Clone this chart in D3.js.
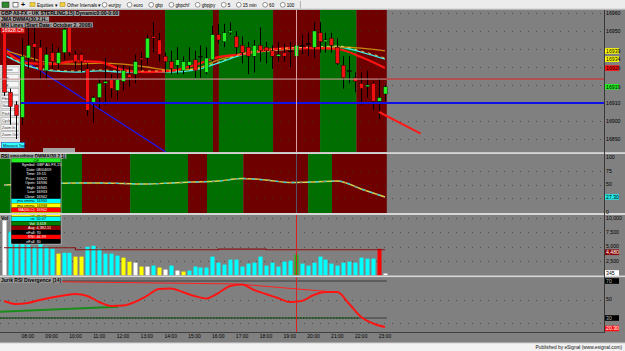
<!DOCTYPE html>
<html>
<head>
<meta charset="utf-8">
<script src="https://cdnjs.cloudflare.com/ajax/libs/d3/7.8.5/d3.min.js"></script>
<style>
  body { margin: 0; background: #808080; overflow: hidden; }
  text { font-family: "Liberation Sans", Arial, sans-serif; }
</style>
</head>
<body>
<svg id="chart"></svg>
<script>
const W = 625, H = 351;
const plotRight = 604;

// ---- data (15 min bars, 07:00 .. 23:00) ----
const opens  = [16949,16916,16909,16902,16935,16943,16941,16928,16938,16932,
                16938,16952,16937,16937,16929,16910,16913,16921,16923,16917,
                16922,16926,16926,16935,16935,16947,16945,16936,16933,16931,
                16928,16931,16934,16936,16927,16934,16948,16944,16949,16947,
                16942,16941,16936,16942,16941,16939,16936,16938,16939,16936,
                16942,16943,16941,16949,16944,16946,16941,16931,16928,16924,
                16921,16919,16921,16911,16915];
const highs  = [16954,16918,16911,16946,16953,16953,16945,16941,16943,16941,
                16954,16955,16939,16938,16932,16914,16924,16935,16926,16931,
                16931,16930,16937,16938,16948,16955,16949,16938,16939,16941,
                16936,16941,16939,16942,16941,16953,16954,16954,16955,16950,
                16947,16944,16945,16952,16944,16942,16944,16943,16944,16945,
                16948,16949,16955,16955,16949,16949,16946,16936,16936,16927,
                16927,16928,16922,16924,16920];
const lows   = [16914,16898,16890,16898,16929,16933,16923,16923,16929,16929,
                16934,16936,16929,16927,16903,16899,16907,16909,16913,16912,
                16917,16919,16921,16928,16931,16938,16933,16927,16926,16926,
                16926,16929,16924,16924,16926,16933,16943,16941,16948,16937,
                16932,16926,16927,16933,16932,16929,16933,16933,16930,16933,
                16937,16936,16935,16938,16938,16938,16931,16918,16921,16916,
                16909,16913,16906,16901,16911];
const closes = [16916,16908,16903,16936,16942,16941,16928,16937,16933,16938,
                16951,16938,16933,16933,16906,16913,16921,16922,16918,16923,
                16928,16924,16933,16934,16946,16946,16937,16933,16929,16934,
                16933,16933,16928,16936,16935,16948,16945,16949,16950,16941,
                16938,16936,16942,16939,16939,16936,16937,16936,16939,16942,
                16942,16943,16950,16944,16945,16942,16932,16924,16928,16922,
                16918,16920,16911,16913,16919];

// moving averages, read every 4th bar
const maIdx    = [0,4,8,12,16,20,24,28,32,36,40,44,48,52,56,60,64];
const maRed    = [16939.4,16932.2,16931.6,16933.3,16932.8,16928.3,16927.2,16927.8,16931.1,16935.5,16937.2,16939.4,16940.5,16940.5,16940.0,16935.5,16929.4];
const maOrange = [16939.4,16935.5,16932.2,16931.6,16932.2,16931.6,16930.0,16928.3,16928.9,16933.9,16937.2,16938.9,16940.0,16940.5,16941.1,16940.5,16938.9];
const maCyan   = [16936.7,16930.5,16927.8,16927.2,16927.8,16927.2,16927.2,16927.2,16928.3,16932.2,16936.7,16938.9,16940.0,16940.5,16941.1,16938.3,16934.4];

const hLineRed  = 16923.3;
const hLineBlue = 16910;
const blueTrend = [[0, 16941], [28, 16881]];
const redProj   = [[63, 16905], [70, 16893]];

const mainBandEdges  = [-1, 27.06, 35.1, 36.1, 45.2, 53.1, 59.2, 64.3];
const mainBandColors = ["r","g","r","g","r","g","r"];
const rsiBandEdges   = [-1, 13.1, 21.2, 30.9, 34.1, 40.2, 51.1, 55.1, 64.3];
const rsiBandColors  = ["g","r","g","r","g","r","g","r"];

const priceTicks = [16890,16900,16910,16920,16930,16940,16950,16960];

const rsiVals = [49.1,50.9,51.8,52.7,52.7,51.8,50.9,52.7,54.5,56.4,60.9,58.2,53.6,54.5,56.4,41.8,27.3];
const rsiTicks = [0,50,75,100];

const volumes = [10000,7600,6600,6000,5350,5000,5600,5000,4650,3800,
                 3950,3950,3280,3280,5000,5170,4650,3800,3800,3450,
                 3100,2410,2240,1550,1550,1720,1380,1030,1720,860,
                 690,860,1550,1380,1380,3280,2240,1900,2760,2760,
                 1550,2070,2240,3280,1720,2240,1550,2410,2590,3618,
                 2070,1720,2240,3280,2760,2070,1720,2240,2410,2240,
                 3100,2930,2930,4650,345];
const volColors = ("wcccccccc" + "y" + "cc" + "yy" + "cccccc" + "yywywcywcwy" +
                   "cccccccccccccccccc" + "g" + "ccccccccccccc" + "r" + "w").split("");
const avgVol = [4830,4830,4830,4480,4480,4480,4480,4480,4480,4570,4570,4480,4480,4480,4480,4480,4480];
const volTicks = [2500,5000,7500,10000];

const jurikIdx = d3.range(0, 65, 2);
const jurik = [48.4,45.1,46.2,49.5,52.2,54.3,55.9,53.8,47.3,43.0,43.5,47.3,53.8,61.4,61.9,58.1,53.8,
               51.1,57.0,64.6,66.2,60.3,55.9,51.6,47.3,48.4,54.9,58.1,58.1,45.1,31.1,24.1,20.3];
const jurikLevels = [30, 70];
const jurikTrend = [[-0.7, 36.8], [19.2, 42.2]];
const jurikDiv = [[[-0.7, 70.0], [39.2, 66.8]], [[39.2, 66.8], [54.8, 58.4]]];

const hourLabels = ["08:00","09:00","10:00","11:00","12:00","13:00","14:00","15:00",
                    "16:00","17:00","18:00","19:00","20:00","21:00","22:00","23:00"];
const hourBars = [4,8,12,16,20,24,28,32,36,40,44,48,52,56,60,64];
const cursorBar = 49;

const toolbarItems = ["eurjpy","euro","gbp","gbpchf","gbpjpy","5","15 min","60","100"];
const dataRows = [
  ["", "Off", "#22ee22", "#000"],
  ["Symbol:", "GBP A0-FX,15", "#000", "#fff"],
  ["Date:", "08/04/09", "#000", "#fff"],
  ["Time:", "19:15", "#000", "#fff"],
  ["Price:", "16922", "#000", "#fff"],
  ["Open:", "16936", "#000", "#fff"],
  ["High:", "16945", "#000", "#fff"],
  ["Low:", "16933", "#000", "#fff"],
  ["Close:", "16942", "#000", "#fff"],
  ["jma xmma:", "16930", "#00ffff", "#000"],
  ["jma xmma:", "16938", "#ffff00", "#000"],
  ["MA(50,C):", "16942", "#ff0000", "#fff"],
  ["rsi:", "52.56", "#ffff00", "#000"],
  ["rsi:", "50.07", "#00ffff", "#000"],
  ["Vol:", "3,618", "#008000", "#fff"],
  ["Avg:", "4,382.11", "#8b0000", "#fff"],
  ["nFall:", "70", "#000", "#fff"],
  ["RSI:", "46.99", "#ff0000", "#fff"],
  ["nFall:", "30", "#000", "#fff"]
];
const toolButtons = ["Cursor","Line","Ray","Text","Fibs","Gann","Pitch","Cycle","Zoom In","Zoom Out"];

// ---- scales ----
const bandCol = {r: "#6e0000", g: "#006e00"};
const volCol = {w: "#ffffff", y: "#ffff00", c: "#00ffff", g: "#22b022", r: "#ff0000"};
const x = d3.scaleLinear().domain([0, 64]).range([4, 385]);
const yMain = d3.scaleLinear().domain([16890, 16960]).range([139, 13]);
const yRsi = d3.scaleLinear().domain([0, 100]).range([212, 157]);
const yVol = d3.scaleLinear().domain([0, 10000]).range([275.5, 218]);
const yJrk = d3.scaleLinear().domain([30, 70]).range([318, 281]);

const panels = {
  main: [10, 152], rsi: [154, 213], vol: [215, 275.5], jrk: [277, 332]
};

const svg = d3.select("#chart").attr("width", W).attr("height", H);
const defs = svg.append("defs");
Object.entries(panels).forEach(([k, p]) => {
  defs.append("clipPath").attr("id", "clip-" + k)
    .append("rect").attr("x", 0).attr("y", p[0]).attr("width", plotRight).attr("height", p[1] - p[0]);
});
svg.append("rect").attr("width", W).attr("height", H).attr("fill", "#808080");

function panel(k) { return svg.append("g").attr("clip-path", "url(#clip-" + k + ")"); }
function dotted(g, y) {
  g.append("line").attr("x1", 0).attr("x2", plotRight).attr("y1", Math.round(y) + 0.5).attr("y2", Math.round(y) + 0.5)
    .attr("stroke", "#383838").attr("stroke-width", 1).attr("stroke-dasharray", "1,7").attr("opacity", 0.7);
}
function boxLabel(g, xx, y, txt, bg, fg, size, bold) {
  const t = g.append("text").attr("x", xx + 1).attr("y", y).attr("font-size", size)
    .attr("font-weight", bold ? "bold" : "normal").attr("fill", fg).text(txt);
  const w = t.node().getComputedTextLength();
  g.insert("rect", () => t.node()).attr("x", xx).attr("y", y - size * 0.85).attr("width", w + 2)
    .attr("height", size * 1.05).attr("fill", bg);
}
const px = i => Math.round(x(i)) + 0.5;

// ---- main price panel ----
const gm = panel("main");
mainBandColors.forEach((c, k) => {
  gm.append("rect").attr("x", x(mainBandEdges[k])).attr("width", x(mainBandEdges[k + 1]) - x(mainBandEdges[k]))
    .attr("y", 10).attr("height", 142).attr("fill", bandCol[c]);
});
priceTicks.forEach(v => dotted(gm, yMain(v)));

// tool panel on the left
gm.append("rect").attr("x", 0).attr("y", 65).attr("width", 20).attr("height", 83).attr("fill", "#e2e2e2");
toolButtons.forEach((b, k) => {
  const yy = 67 + k * 7.2;
  gm.append("rect").attr("x", 1).attr("y", yy).attr("width", 18).attr("height", 5.6)
    .attr("fill", "#f6f6f6").attr("stroke", "#9a9a9a").attr("stroke-width", 0.5);
  gm.append("text").attr("x", 2).attr("y", yy + 4.4).attr("font-size", 3.6).attr("fill", "#333").text(b);
});
gm.append("rect").attr("x", 1.5).attr("y", 142.5).attr("width", 23).attr("height", 5.5)
  .attr("fill", "#33ffff").attr("stroke", "#2050c0").attr("stroke-width", 0.6);
gm.append("text").attr("x", 3).attr("y", 146.8).attr("font-size", 3.8).attr("fill", "#003").text("Measure Tool");

const line = d3.line().x(d => x(d[0])).y(d => yMain(d[1]));
gm.append("path").attr("d", line(blueTrend)).attr("stroke", "#1a1aff").attr("stroke-width", 1.2).attr("fill", "none");

const maLine = d3.line().x(d => x(d[0])).y(d => yMain(d[1])).curve(d3.curveMonotoneX);
[[maCyan, "#40e8e8", 1.3], [maOrange, "#c88a10", 1.3], [maRed, "#ff1414", 2.2]].forEach(([arr, col, sw]) => {
  gm.append("path").attr("d", maLine(maIdx.map((i, k) => [i, arr[k]])))
    .attr("stroke", col).attr("stroke-width", sw).attr("fill", "none");
});
gm.append("path").attr("d", maLine(maIdx.map((i, k) => [i, maCyan[k] + 0.6])))
  .attr("stroke", "#e8e860").attr("stroke-width", 0.8).attr("stroke-dasharray", "3,4").attr("fill", "none");

// candles
const bars = opens.map((o, i) => ({i, o, h: highs[i], l: lows[i], c: closes[i]}));
gm.selectAll(".wick").data(bars).join("line")
  .attr("x1", d => px(d.i)).attr("x2", d => px(d.i))
  .attr("y1", d => yMain(d.h)).attr("y2", d => yMain(d.l))
  .attr("stroke", "#000").attr("stroke-width", 1);
gm.selectAll(".body").data(bars).join("rect")
  .attr("x", d => Math.round(x(d.i)) - 1.5).attr("width", 4)
  .attr("y", d => yMain(Math.max(d.o, d.c)))
  .attr("height", d => Math.max(1, Math.abs(yMain(d.o) - yMain(d.c))))
  .attr("fill", d => d.c > d.o ? "#22ee22" : d.c < d.o ? "#f01010" : "#000")
  .attr("stroke", "#000").attr("stroke-width", 0.4);

// horizontal lines
gm.append("line").attr("x1", 0).attr("x2", x(64.3)).attr("y1", yMain(hLineRed)).attr("y2", yMain(hLineRed))
  .attr("stroke", "#d8a0a0").attr("stroke-width", 1);
gm.append("line").attr("x1", x(64.3)).attr("x2", plotRight).attr("y1", yMain(hLineRed)).attr("y2", yMain(hLineRed))
  .attr("stroke", "#e02020").attr("stroke-width", 1);
gm.append("line").attr("x1", 21).attr("x2", plotRight).attr("y1", yMain(hLineBlue)).attr("y2", yMain(hLineBlue))
  .attr("stroke", "#1010e8").attr("stroke-width", 2);
gm.append("path").attr("d", line(redProj)).attr("stroke", "#ff1a1a").attr("stroke-width", 2).attr("fill", "none");
gm.append("line").attr("x1", px(cursorBar)).attr("x2", px(cursorBar)).attr("y1", 10).attr("y2", 152)
  .attr("stroke", "#d8a0a0").attr("stroke-width", 1);
gm.append("rect").attr("x", 43).attr("y", 148).attr("width", 32).attr("height", 4).attr("fill", "#a4a4a4");

boxLabel(gm, 0, 15, "GBP A0-FX - UK STERLING,15) Dynamic0:00-0:00", "#a0a0a0", "#000", 5, true);
boxLabel(gm, 0, 20.8, "JMA DWMA(30,2,H..", "#a0a0a0", "#000", 5, true);
boxLabel(gm, 0, 26.6, "MH Lines (Start Date: October 2, 2008)", "#a0a0a0", "#000", 5, true);
boxLabel(gm, 1, 32.3, "16928.Ch", "#e01010", "#fff", 5, false);

// ---- RSI panel ----
const gr = panel("rsi");
rsiBandColors.forEach((c, k) => {
  gr.append("rect").attr("x", x(rsiBandEdges[k])).attr("width", x(rsiBandEdges[k + 1]) - x(rsiBandEdges[k]))
    .attr("y", 154).attr("height", 59).attr("fill", bandCol[c]);
});
[25, 50, 75].forEach(v => dotted(gr, yRsi(v)));
const rsiLine = d3.line().x((d, k) => x(maIdx[k])).y(d => yRsi(d)).curve(d3.curveMonotoneX);
gr.append("path").attr("d", rsiLine(rsiVals)).attr("stroke", "#d8d850").attr("stroke-width", 1.4).attr("fill", "none");
gr.append("path").attr("d", rsiLine(rsiVals)).attr("stroke", "#30c8d8").attr("stroke-width", 1.4)
  .attr("stroke-dasharray", "3,5").attr("fill", "none");
gr.append("path").attr("d", rsiLine(rsiVals)).attr("stroke", "#d87030").attr("stroke-width", 1)
  .attr("stroke-dasharray", "2,9").attr("fill", "none");
gr.append("line").attr("x1", px(cursorBar)).attr("x2", px(cursorBar)).attr("y1", 154).attr("y2", 213)
  .attr("stroke", "#505868").attr("stroke-width", 1);
boxLabel(gr, 0, 157.8, "RSI smoothing DWMA(30,2,1)", "#a0a0a0", "#000", 4.6, true);

// ---- volume panel ----
const gv = panel("vol");
volTicks.forEach(v => dotted(gv, yVol(v)));
gv.selectAll(".vb").data(volumes).join("rect")
  .attr("x", (d, i) => Math.round(x(i)) - 1.5).attr("width", 4)
  .attr("y", d => yVol(d)).attr("height", d => yVol(0) - yVol(d))
  .attr("fill", (d, i) => volCol[volColors[i]]);
gv.append("path")
  .attr("d", d3.line().x((d, k) => x(maIdx[k])).y(d => yVol(d)).curve(d3.curveStepAfter)(avgVol))
  .attr("stroke", "#8a1010").attr("stroke-width", 1.2).attr("fill", "none");
gv.append("line").attr("x1", px(cursorBar)).attr("x2", px(cursorBar)).attr("y1", 215).attr("y2", 276)
  .attr("stroke", "#e02020").attr("stroke-width", 1);
boxLabel(gv, 0, 219.5, "Vol", "#a0a0a0", "#000", 5, true);

// ---- Jurik RSI divergence panel ----
const gj = panel("jrk");
[25, 50].forEach(v => dotted(gj, yJrk(v)));
jurikLevels.forEach(v => {
  gj.append("line").attr("x1", 0).attr("x2", x(64.3)).attr("y1", yJrk(v)).attr("y2", yJrk(v))
    .attr("stroke", "#3a3a3a").attr("stroke-width", 1);
});
gj.append("line").attr("x1", 0).attr("x2", x(59.5)).attr("y1", yJrk(30)).attr("y2", yJrk(30))
  .attr("stroke", "#1e5a1e").attr("stroke-width", 2).attr("stroke-dasharray", "1.5,1.5");
const jl = d3.line().x(d => x(d[0])).y(d => yJrk(d[1]));
jurikDiv.forEach(seg => gj.append("path").attr("d", jl(seg)).attr("stroke", "#ff2020").attr("stroke-width", 1).attr("fill", "none"));
gj.append("path").attr("d", jl(jurikTrend)).attr("stroke", "#1a8c1a").attr("stroke-width", 2).attr("fill", "none");
gj.append("path").attr("d", jl.curve(d3.curveMonotoneX)(jurikIdx.map((i, k) => [i, jurik[k]])))
  .attr("stroke", "#ff1414").attr("stroke-width", 2).attr("fill", "none");
gj.append("line").attr("x1", px(cursorBar)).attr("x2", px(cursorBar)).attr("y1", 277).attr("y2", 332)
  .attr("stroke", "#e02020").attr("stroke-width", 1);
boxLabel(gj, 0, 281.6, "Jurik RSI Divergence (14)", "#a0a0a0", "#000", 5, true);

// ---- data window ----
const dw = svg.append("g");
const rowH = 4.5;
dw.append("rect").attr("x", 11).attr("y", 158).attr("width", 50).attr("height", dataRows.length * rowH + 0.5)
  .attr("fill", "#000").attr("stroke", "#c8c8c8").attr("stroke-width", 0.8);
dataRows.forEach((r, k) => {
  const yy = 158.3 + k * rowH;
  dw.append("rect").attr("x", 11.5).attr("y", yy).attr("width", 49).attr("height", rowH - 0.3).attr("fill", r[2]);
  if (r[0] === "") {
    dw.append("text").attr("x", 36).attr("y", yy + 3.6).attr("text-anchor", "middle")
      .attr("font-size", 3.8).attr("fill", r[3]).text(r[1]);
  } else {
    dw.append("text").attr("x", 35.5).attr("y", yy + 3.6).attr("text-anchor", "end")
      .attr("font-size", 3.8).attr("fill", r[3]).text(r[0]);
    dw.append("text").attr("x", 36.5).attr("y", yy + 3.6)
      .attr("font-size", 3.8).attr("fill", r[3]).text(r[1]);
  }
});

// ---- separators and borders ----
[[152.2, 1.8], [213, 2], [275.5, 1.6]].forEach(([y, h]) => {
  svg.append("rect").attr("x", 0).attr("y", y).attr("width", W).attr("height", h).attr("fill", "#d6d6d6");
});
svg.append("line").attr("x1", 0).attr("x2", plotRight).attr("y1", 332.5).attr("y2", 332.5).attr("stroke", "#404040");
svg.append("line").attr("x1", plotRight + 0.5).attr("x2", plotRight + 0.5).attr("y1", 10).attr("y2", 333).attr("stroke", "#383838");

// ---- right axes ----
const ax = svg.append("g").attr("font-size", 5.2).attr("fill", "#000");
function axText(v, y, txt) { ax.append("text").attr("x", 606).attr("y", y + 1.8).text(txt); }
function marker(y, txt, bg, fg) {
  ax.append("rect").attr("x", 605).attr("y", y - 2.8).attr("width", 14).attr("height", 5.6).attr("fill", bg);
  ax.append("text").attr("x", 606).attr("y", y + 1.8).attr("fill", fg).text(txt);
}
const priceMarkers = [
  [maOrange[maOrange.length - 1], "#ffff00", "#000"],
  [maCyan[maCyan.length - 1], "#ffff00", "#000"],
  [maRed[maRed.length - 1], "#ff1010", "#000"],
  [closes[closes.length - 1], "#22ee22", "#000"]
];
// tick labels hidden behind a value marker are not drawn
priceTicks.filter(v => priceMarkers.every(m => Math.abs(yMain(m[0]) - yMain(v)) > 4.5))
  .forEach(v => axText(v, yMain(v), v));
priceMarkers.forEach(m => marker(yMain(m[0]), d3.format(".0f")(m[0]), m[1], m[2]));

rsiTicks.forEach(v => axText(v, yRsi(v), v));
marker(yRsi(rsiVals[rsiVals.length - 1]), d3.format(".2f")(rsiVals[rsiVals.length - 1]), "#22e8e8", "#000");

volTicks.forEach(v => axText(v, yVol(v) - (v === 5000 ? 1 : 0), d3.format(",")(v)));
marker(yVol(avgVol[avgVol.length - 1]) + 2.5, d3.format(",")(avgVol[avgVol.length - 1]), "#8b0000", "#fff");
marker(yVol(0) - 2.5, volumes[volumes.length - 1], "#ffffff", "#000");

axText(50, yJrk(50), "50");
jurikLevels.forEach(v => marker(yJrk(v), v, "#000", "#bbb"));
marker(yJrk(jurik[jurik.length - 1]) + 1.5, d3.format(".2f")(jurik[jurik.length - 1]), "#ff1010", "#fff");

// ---- time axis ----
svg.append("g").selectAll("text").data(hourLabels).join("text")
  .attr("x", (d, k) => x(hourBars[k])).attr("y", 337.5).attr("text-anchor", "middle")
  .attr("font-size", 5).attr("fill", "#000").text(d => d);

// ---- footer ----
svg.append("rect").attr("x", 0).attr("y", 343).attr("width", W).attr("height", 8).attr("fill", "#f2f2f2");
svg.append("line").attr("x1", 0).attr("x2", W).attr("y1", 343).attr("y2", 343).attr("stroke", "#cfcfcf");
svg.append("text").attr("x", 622).attr("y", 349.2).attr("text-anchor", "end").attr("font-size", 4.8)
  .attr("fill", "#111").text("Published by eSignal (www.esignal.com)");

// ---- toolbar ----
const tb = svg.append("g");
tb.append("rect").attr("width", W).attr("height", 9.5).attr("fill", "#ececec");
tb.append("line").attr("x1", 0).attr("x2", W).attr("y1", 9.2).attr("y2", 9.2).attr("stroke", "#b8b8b8");
tb.append("rect").attr("x", 2).attr("y", 2).attr("width", 7).attr("height", 5.5).attr("fill", "#2c8a2c").attr("stroke", "#222").attr("stroke-width", 0.5);
tb.append("rect").attr("x", 13).attr("y", 2.5).attr("width", 5).attr("height", 4.5).attr("fill", "#fff").attr("stroke", "#333").attr("stroke-width", 0.6);
tb.append("text").attr("x", 21).attr("y", 7).attr("font-size", 7).attr("font-weight", "bold").text("+");
[[30, "Equities"], [60, "Other Intervals"]].forEach(([xx, t]) => {
  tb.append("rect").attr("x", xx).attr("y", 2.5).attr("width", 5).attr("height", 4).attr("fill", "#f0d040").attr("stroke", "#a08020").attr("stroke-width", 0.5);
  tb.append("text").attr("x", xx + 7).attr("y", 6.6).attr("font-size", 4.6).text(t + "  \u25BE");
});
let tx = 102;
toolbarItems.forEach(t => {
  tb.append("circle").attr("cx", tx + 2.5).attr("cy", 4.8).attr("r", 2.4).attr("fill", "#fff").attr("stroke", "#333").attr("stroke-width", 0.5);
  const tt = tb.append("text").attr("x", tx + 6.5).attr("y", 6.6).attr("font-size", 4.6).text(t);
  tx += 6.5 + tt.node().getComputedTextLength() + 6;
});
tb.append("line").attr("x1", tx).attr("x2", tx).attr("y1", 1).attr("y2", 8.5).attr("stroke", "#b0b0b0");
</script>
</body>
</html>
